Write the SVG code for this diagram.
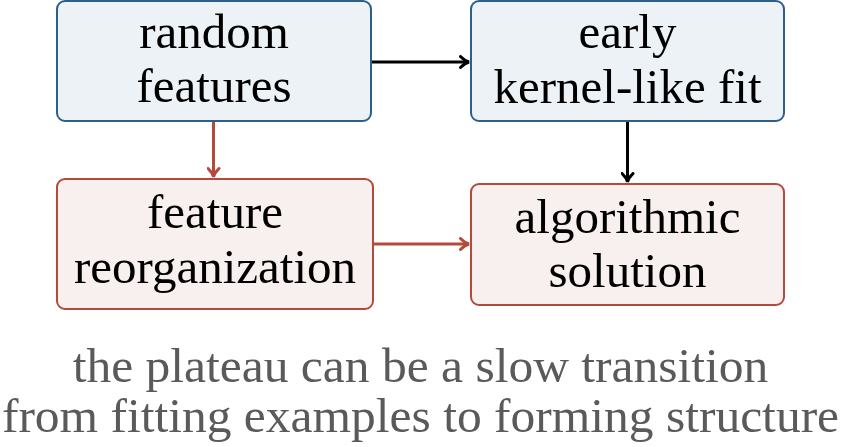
<svg xmlns="http://www.w3.org/2000/svg" width="841" height="447" viewBox="0 0 841 447">
<defs>
<style>
text{font-family:'Liberation Serif','Times New Roman',serif}
.t{font-size:49px;text-anchor:middle;fill:#000}
.cap{font-size:49.5px;text-anchor:middle;fill:#5a5a5a}
.blue{fill:#edf2f6;stroke:#2e5f8c;stroke-width:2}
.red{fill:#f8f0ef;stroke:#b34a3c;stroke-width:2}
.ck{stroke:#000;stroke-width:3;fill:none}
.cr{stroke:#b34a3c;stroke-width:3;fill:none}
</style>
<marker id="ak" viewBox="0 0 12 14" refX="10.5" refY="7" markerWidth="12" markerHeight="14" markerUnits="userSpaceOnUse" orient="auto">
<path d="M2,1.5 Q6.5,6 10.5,7 Q6.5,8 2,12.5" fill="none" stroke="#000" stroke-width="3" stroke-linecap="round"/>
</marker>
<marker id="ar" viewBox="0 0 12 14" refX="10.5" refY="7" markerWidth="12" markerHeight="14" markerUnits="userSpaceOnUse" orient="auto">
<path d="M2,1.5 Q6.5,6 10.5,7 Q6.5,8 2,12.5" fill="none" stroke="#b34a3c" stroke-width="3" stroke-linecap="round"/>
</marker>
</defs>
<g id="connectors">
<path class="ck" d="M371,62 H469" marker-end="url(#ak)"/>
<path class="cr" d="M213.5,121 V177" marker-end="url(#ar)"/>
<path class="ck" d="M627.5,121 V182" marker-end="url(#ak)"/>
<path class="cr" d="M373,244 H469" marker-end="url(#ar)"/>
</g>
<g id="random-features">
<rect class="blue" x="57" y="1" width="314" height="120" rx="8"/>
<text class="t" x="214" y="48">random</text>
<text class="t" x="214" y="102">features</text>
</g>
<g id="early-fit">
<rect class="blue" x="471" y="1" width="313" height="120" rx="8"/>
<text class="t" x="627.5" y="48">early</text>
<text class="t" x="627.5" y="103">kernel-like fit</text>
</g>
<g id="feature-reorganization">
<rect class="red" x="57" y="179" width="316" height="130" rx="8"/>
<text class="t" x="215" y="228">feature</text>
<text class="t" x="215" y="283">reorganization</text>
</g>
<g id="algorithmic-solution">
<rect class="red" x="471" y="184" width="313" height="121" rx="8"/>
<text class="t" x="627.5" y="233">algorithmic</text>
<text class="t" x="627.5" y="287">solution</text>
</g>
<g id="caption">
<text class="cap" x="420.5" y="382">the plateau can be a slow transition</text>
<text class="cap" x="420.5" y="432">from fitting examples to forming structure</text>
</g>
</svg>
